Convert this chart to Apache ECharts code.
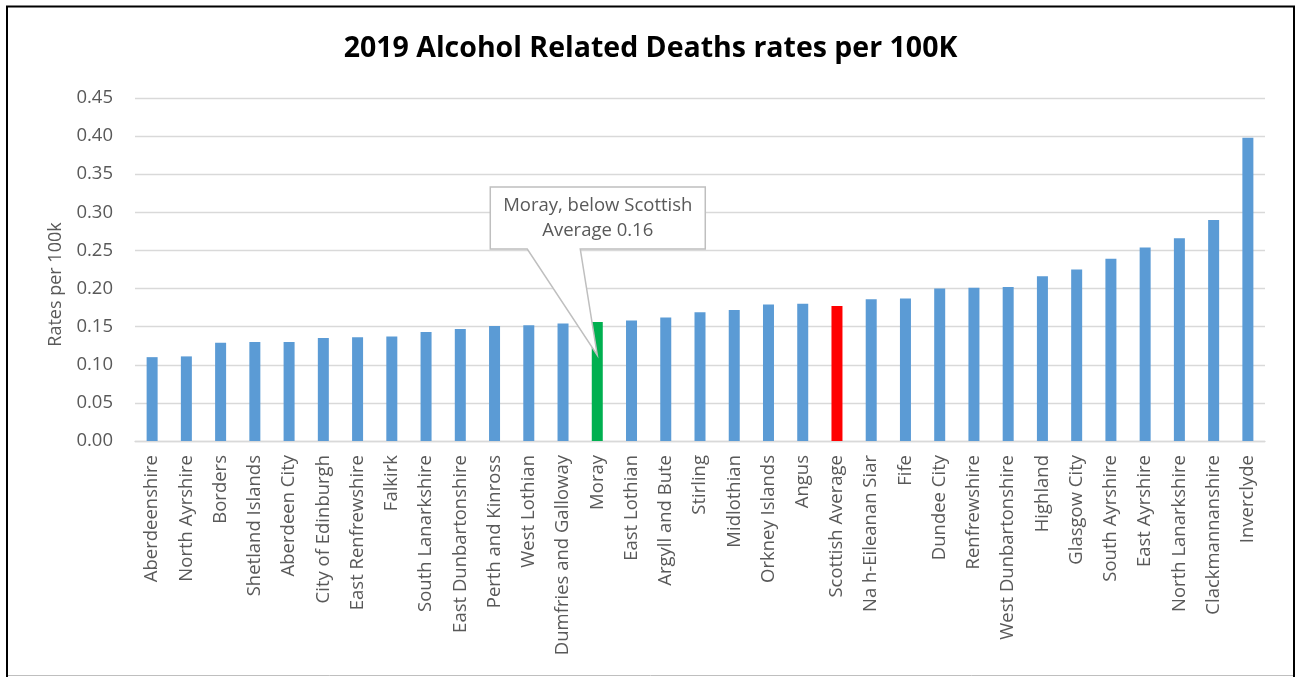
<!DOCTYPE html>
<html>
<head>
<meta charset="utf-8">
<title>2019 Alcohol Related Deaths rates per 100K</title>
<script src="https://cdn.jsdelivr.net/npm/echarts@6/dist/echarts.min.js"></script>
<style>
  html, body { margin: 0; padding: 0; background: #ffffff; }
  #chart { width: 1301px; height: 677px; }
</style>
</head>
<body>
<div id="chart"></div>
<script>
// Council areas, sorted by rate
const areas = [
  'Aberdeenshire', 'North Ayrshire', 'Borders', 'Shetland Islands', 'Aberdeen City',
  'City of Edinburgh', 'East Renfrewshire', 'Falkirk', 'South Lanarkshire', 'East Dunbartonshire',
  'Perth and Kinross', 'West Lothian', 'Dumfries and Galloway', 'Moray', 'East Lothian',
  'Argyll and Bute', 'Stirling', 'Midlothian', 'Orkney Islands', 'Angus',
  'Scottish Average', 'Na h-Eileanan Siar', 'Fife', 'Dundee City', 'Renfrewshire',
  'West Dunbartonshire', 'Highland', 'Glasgow City', 'South Ayrshire', 'East Ayrshire',
  'North Lanarkshire', 'Clackmannanshire', 'Inverclyde'
];

// Alcohol related deaths, rate per 100k
const rates = [
  0.110, 0.111, 0.129, 0.130, 0.130,
  0.135, 0.136, 0.137, 0.143, 0.147,
  0.151, 0.152, 0.154, 0.156, 0.158,
  0.162, 0.169, 0.172, 0.179, 0.180,
  0.177, 0.186, 0.187, 0.200, 0.201,
  0.202, 0.216, 0.225, 0.239, 0.254,
  0.266, 0.290, 0.398
];

const yTicks = ['0.00', '0.05', '0.10', '0.15', '0.20', '0.25', '0.30', '0.35', '0.40', '0.45'];

const highlightArea = 'Moray';
const averageArea = 'Scottish Average';

const FONT = '"Open Sans", "Noto Sans", sans-serif';
const BAR = '#5B9BD5', GREEN = '#00B050', RED = '#FF0000', TEXT = '#595959';

const chart = echarts.init(document.getElementById('chart'), null, { renderer: 'canvas' });

const barData = rates.map((v, i) => {
  let color = BAR;
  if (areas[i] === highlightArea) color = GREEN;
  if (areas[i] === averageArea) color = RED;
  return { value: v, itemStyle: { color } };
});

chart.setOption({
  animation: false,
  backgroundColor: '#ffffff',
  title: {
    text: '2019 Alcohol Related Deaths rates per 100K',
    left: 'center',
    top: 29,
    textStyle: { fontFamily: FONT, fontWeight: 'bold', fontSize: 28.5, color: '#000000' }
  },
  grid: { left: 135, right: 36, top: 98, bottom: 236, containLabel: false },
  xAxis: {
    type: 'category',
    data: areas,
    axisLine: { lineStyle: { color: '#D9D9D9', width: 1.3 } },
    axisTick: { show: false },
    axisLabel: {
      rotate: 90, interval: 0, margin: 14,
      fontFamily: FONT, fontSize: 18.5, color: TEXT
    }
  },
  yAxis: {
    type: 'value',
    min: 0, max: 0.45, interval: 0.05,
    name: 'Rates per 100k',
    nameLocation: 'middle',
    nameGap: 70,
    nameRotate: 90,
    nameTextStyle: { fontFamily: FONT, fontSize: 18, color: TEXT, padding: [0, 30, 0, 0] },
    axisLine: { show: false },
    axisTick: { show: false },
    axisLabel: {
      margin: 22,
      fontFamily: FONT, fontSize: 18.5, color: TEXT,
      formatter: (v) => yTicks[Math.round(v / 0.05)]
    },
    splitLine: { lineStyle: { color: '#D9D9D9', width: 1.3 } }
  },
  series: [{
    type: 'bar',
    data: barData,
    barWidth: 11
  }]
});

// Callout annotation pointing into the Moray bar, placed from the bar's own pixel position
const mIdx = areas.indexOf(highlightArea);
const mVal = rates[mIdx];
const [bx, by] = chart.convertToPixel({ seriesIndex: 0 }, [mIdx, mVal]);
const boxL = bx - 107, boxR = bx + 108, boxT = by - 135, boxB = by - 73;
const calloutShape = [
  [boxL, boxT], [boxR, boxT], [boxR, boxB],
  [bx - 17, boxB], [bx, by + 33], [bx - 70, boxB],
  [boxL, boxB]
];

chart.setOption({
  graphic: [
    // outer frame of the chart area
    {
      type: 'rect', silent: true, z: 100,
      shape: { x: 7, y: 6.5, width: 1287, height: 700 },
      style: { fill: 'none', stroke: '#000000', lineWidth: 2 }
    },
    {
      type: 'line', silent: true, z: 101,
      shape: { x1: 8, y1: 675.5, x2: 1293, y2: 675.5 },
      style: { stroke: '#BFBFBF', lineWidth: 1 }
    },
    {
      type: 'polygon', silent: true, z: 50,
      shape: { points: calloutShape },
      style: { fill: '#ffffff', stroke: '#BFBFBF', lineWidth: 1.5 }
    },
    {
      type: 'text', silent: true, z: 51,
      x: (boxL + boxR) / 2, y: (boxT + boxB) / 2,
      style: {
        text: 'Moray, below Scottish\nAverage ' + mVal.toFixed(2),
        fontFamily: FONT, fontSize: 18.5, fill: TEXT,
        align: 'center', verticalAlign: 'middle', lineHeight: 25
      }
    }
  ]
});
</script>
</body>
</html>
